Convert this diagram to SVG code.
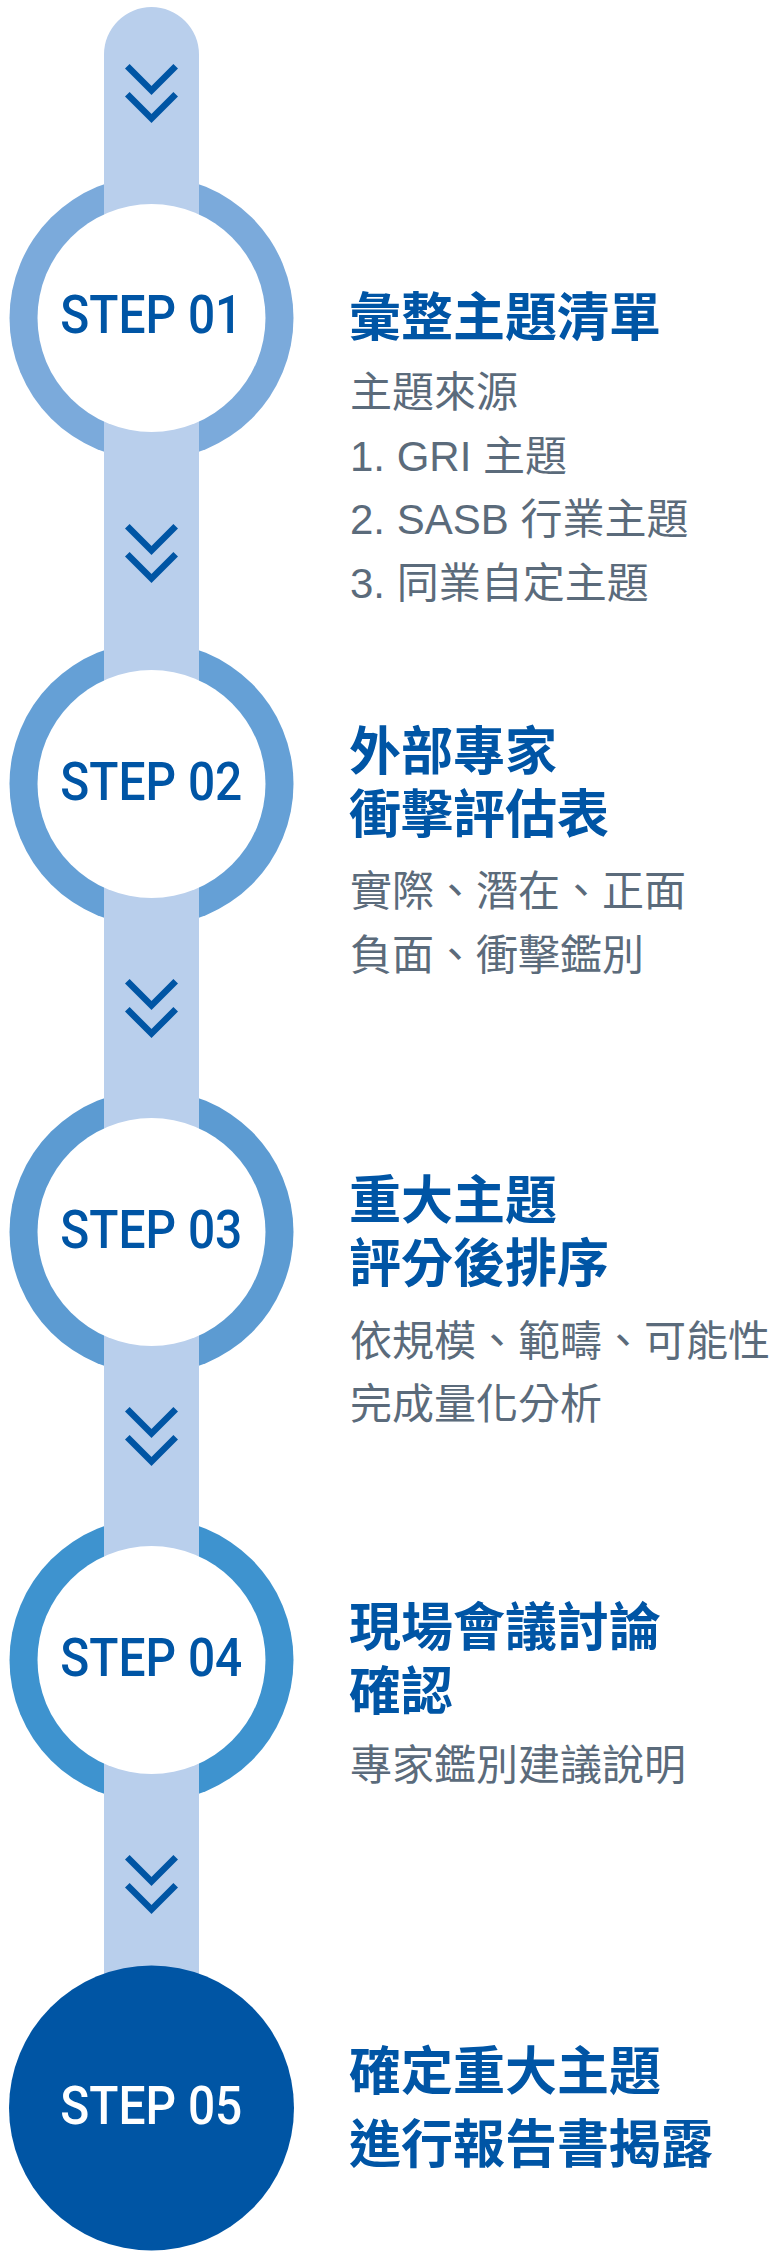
<svg xmlns="http://www.w3.org/2000/svg" xmlns:xlink="http://www.w3.org/1999/xlink" width="780" height="2258" viewBox="0 0 780 2258">
<style>
.bar{fill:#B9CFEC}
.inner{fill:#FFFFFF}
.chev{fill:none;stroke:#0055A4;stroke-width:6.5;stroke-linejoin:miter;stroke-linecap:butt}
.step{font-family:Roboto,"DejaVu Sans",sans-serif;font-weight:500;font-size:53px;fill:#0055A5}
.title{font-family:"Noto Sans CJK TC","Noto Sans CJK SC",sans-serif;font-weight:700;font-size:52px;fill:#0055A5}
.desc{font-family:"Liberation Sans","Noto Sans CJK TC",sans-serif;font-weight:400;font-size:42px;fill:#5B6B7B}
</style>
<defs>
<g id="chevs">
<polyline class="chev" points="127.3,2.3 151.5,26.5 175.7,2.3"/>
<polyline class="chev" points="127.3,30.3 151.5,54.5 175.7,30.3"/>
</g>
</defs>
<g id="connectors">
<path class="bar" d="M104,2108 V54.5 A47.5,47.5 0 0 1 199,54.5 V2108 Z"/>
<use xlink:href="#chevs" transform="translate(0,64)"/>
<use xlink:href="#chevs" transform="translate(0,524)"/>
<use xlink:href="#chevs" transform="translate(0,979)"/>
<use xlink:href="#chevs" transform="translate(0,1407)"/>
<use xlink:href="#chevs" transform="translate(0,1855)"/>
</g>
<g id="step01">
<circle cx="151.5" cy="318" r="142" fill="#7BAADB"/>
<rect class="bar" x="104" y="170" width="95" height="296"/>
<circle class="inner" cx="151.5" cy="318" r="114"/>
<text class="step" x="60.3" y="333" textLength="182" lengthAdjust="spacingAndGlyphs">STEP 01</text>
<text class="title" x="349" y="336">彙整主題清單</text>
<text class="desc" x="350" y="407">主題來源<tspan x="350" dy="63.5">1. GRI 主題</tspan><tspan x="350" dy="63.5">2. SASB 行業主題</tspan><tspan x="350" dy="63.5">3. 同業自定主題</tspan></text>
</g>
<g id="step02">
<circle cx="151.5" cy="784" r="142" fill="#65A0D6"/>
<rect class="bar" x="104" y="636" width="95" height="296"/>
<circle class="inner" cx="151.5" cy="784" r="114"/>
<text class="step" x="60.3" y="800" textLength="182" lengthAdjust="spacingAndGlyphs">STEP 02</text>
<text class="title" x="349" y="770">外部專家<tspan x="349" dy="63">衝擊評估表</tspan></text>
<text class="desc" x="350" y="906">實際、潛在、正面<tspan x="350" dy="64">負面、衝擊鑑別</tspan></text>
</g>
<g id="step03">
<circle cx="151.5" cy="1232" r="142" fill="#5C9BD2"/>
<rect class="bar" x="104" y="1084" width="95" height="296"/>
<circle class="inner" cx="151.5" cy="1232" r="114"/>
<text class="step" x="60.3" y="1248" textLength="182" lengthAdjust="spacingAndGlyphs">STEP 03</text>
<text class="title" x="349" y="1219">重大主題<tspan x="349" dy="63">評分後排序</tspan></text>
<text class="desc" x="350" y="1356">依規模、範疇、可能性<tspan x="350" dy="63">完成量化分析</tspan></text>
</g>
<g id="step04">
<circle cx="151.5" cy="1660" r="142" fill="#3E93CF"/>
<rect class="bar" x="104" y="1512" width="95" height="296"/>
<circle class="inner" cx="151.5" cy="1660" r="114"/>
<text class="step" x="60.3" y="1676" textLength="182" lengthAdjust="spacingAndGlyphs">STEP 04</text>
<text class="title" x="349" y="1646">現場會議討論<tspan x="349" dy="63.5">確認</tspan></text>
<text class="desc" x="350" y="1780">專家鑑別建議說明</text>
</g>
<g id="step05">
<circle cx="151.5" cy="2108" r="142.5" fill="#0055A4"/>
<text class="step" x="60.3" y="2124" textLength="182" lengthAdjust="spacingAndGlyphs" style="fill:#FFFFFF">STEP 05</text>
<text class="title" x="349" y="2089.5">確定重大主題<tspan x="349" dy="73.5">進行報告書揭露</tspan></text>
</g>
</svg>
